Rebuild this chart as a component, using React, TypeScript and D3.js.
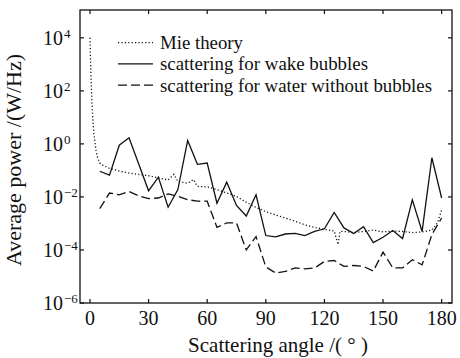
import React from "react";
import * as d3 from "d3";

// scattering angles (deg)
const angles = [5, 10, 15, 20, 25, 30, 35, 40, 45, 50, 55, 60, 65, 70, 75, 80, 85, 90,
  95, 100, 105, 110, 115, 120, 125, 130, 135, 140, 145, 150, 155, 160, 165, 170, 175, 180];

// scattering for wake bubbles (W/Hz)
const wakeBubbles = [9.3e-2, 6.6e-2, 0.89, 1.7, 0.17, 1.7e-2, 5.6e-2, 4.1e-3, 1.9e-2, 1.35,
  0.17, 0.19, 5.8e-3, 3.6e-2, 4.8e-3, 1.9e-3, 1.2e-2, 3.5e-4, 3.1e-4, 4.0e-4, 4.2e-4, 3.5e-4,
  5.0e-4, 6.3e-4, 2.6e-3, 6.8e-4, 4.2e-4, 7.6e-4, 1.9e-4, 3.0e-4, 5.4e-4, 2.7e-4, 7.8e-3,
  5.0e-4, 0.3, 9.1e-3];

// scattering for water without bubbles (W/Hz)
const noBubbles = [3.6e-3, 1.4e-2, 1.2e-2, 1.6e-2, 1.1e-2, 8.7e-3, 9.1e-3, 1.3e-2, 1.05e-2,
  7.9e-3, 6.9e-3, 6.9e-3, 7.1e-4, 1.05e-3, 1.05e-3, 1.0e-4, 3.2e-4, 2.3e-5, 1.35e-5, 1.55e-5,
  2.1e-5, 1.95e-5, 2.1e-5, 3.7e-5, 4.0e-5, 2.4e-5, 2.6e-5, 2.4e-5, 1.6e-5, 8.3e-5, 2.1e-5,
  2.1e-5, 4.3e-5, 2.75e-5, 3.8e-4, 1.6e-3];

// Mie theory
const mieAngles = [0, 0.5, 1, 1.5, 2, 3, 4, 5, 7, 10, 15, 20, 25, 30, 35, 40, 43, 45, 50, 53,
  55, 60, 65, 70, 75, 80, 85, 90, 95, 100, 105, 110, 115, 120, 125, 127, 128, 130, 135, 140,
  145, 150, 155, 160, 165, 170, 175, 178, 180];
const mieValues = [1e4, 400, 40, 7.9, 2.5, 0.63, 0.28, 0.19, 0.15, 0.12, 0.095, 0.079, 0.071,
  0.063, 0.052, 0.044, 0.071, 0.038, 0.033, 0.045, 0.025, 0.024, 0.019, 0.014, 0.0105, 0.0063,
  0.004, 0.0028, 0.0021, 0.0016, 0.0012, 8.9e-4, 7.1e-4, 6.0e-4, 5.2e-4, 1.6e-4, 5.0e-4,
  5.0e-4, 4.5e-4, 5.0e-4, 5.6e-4, 4.8e-4, 5.2e-4, 5.0e-4, 4.5e-4, 4.8e-4, 5.6e-4, 1.1e-3,
  3.2e-3];

const xTicks = [0, 30, 60, 90, 120, 150, 180];
const yExponents = [-6, -4, -2, 0, 2, 4];
const legendLabels = ["Mie theory", "scattering for wake bubbles", "scattering for water without bubbles"];

const W = 460;
const H = 358;
const m = { left: 80, right: 8, top: 10, bottom: 55 };
const font = "'Liberation Serif', 'Times New Roman', serif";
const ink = "#111";

export default function App() {
  const x = d3.scaleLinear().domain([-5.1, 185.3]).range([m.left, W - m.right]);
  const y = d3.scaleLog().domain([1e-6, Math.pow(10, 5.05)]).range([H - m.bottom, m.top]);

  const line = d3.line<[number, number]>()
    .x(d => x(d[0]))
    .y(d => y(d[1]));

  const mie = line(mieAngles.map((a, i) => [a, mieValues[i]]));
  const wake = line(angles.map((a, i) => [a, wakeBubbles[i]]));
  const water = line(angles.map((a, i) => [a, noBubbles[i]]));

  const [x0, x1] = x.range();
  const [y0, y1] = y.range();
  const tick = 4;
  const dashes = ["1.2 2.2", "none", "9 4"];
  const legendWidths = [83, 208, 272];

  return (
    <svg width={W} height={H} style={{ position: "absolute", left: 0, top: 0, background: "#fff" }}
      fontFamily={font} fill={ink}>
      <g fill="none" stroke={ink} strokeWidth={1.3}>
        <path d={mie ?? ""} strokeDasharray={dashes[0]} />
        <path d={wake ?? ""} />
        <path d={water ?? ""} strokeDasharray={dashes[2]} />
      </g>

      {/* frame and inward ticks */}
      <rect x={x0} y={y1} width={x1 - x0} height={y0 - y1} fill="none" stroke={ink} strokeWidth={1.3} />
      {xTicks.map(t => (
        <g key={t} stroke={ink} strokeWidth={1.2}>
          <line x1={x(t)} x2={x(t)} y1={y0} y2={y0 - tick} />
          <line x1={x(t)} x2={x(t)} y1={y1} y2={y1 + tick} />
        </g>
      ))}
      {yExponents.map(e => (
        <g key={e} stroke={ink} strokeWidth={1.2}>
          <line x1={x0} x2={x0 + tick} y1={y(Math.pow(10, e))} y2={y(Math.pow(10, e))} />
          <line x1={x1} x2={x1 - tick} y1={y(Math.pow(10, e))} y2={y(Math.pow(10, e))} />
        </g>
      ))}

      {xTicks.map(t => (
        <text key={t} x={x(t)} y={325} textAnchor="middle" fontSize={20}>{t}</text>
      ))}
      {yExponents.map(e => (
        <text key={e} x={63} y={y(Math.pow(10, e)) + 7} textAnchor="end" fontSize={20}>
          10
          <tspan x={64} dy={-7} textAnchor="start" fontSize={13}>{e < 0 ? "\u2212" + Math.abs(e) : e}</tspan>
        </text>
      ))}

      <text x={278} y={352} textAnchor="middle" fontSize={21}>Scattering angle /( ° )</text>
      <text transform="translate(21,160) rotate(-90)" textAnchor="middle" fontSize={22}>Average power /(W/Hz)</text>

      {legendLabels.map((label, i) => {
        const ly = 42.7 + i * 21.2;
        return (
          <g key={label}>
            <line x1={118} x2={153} y1={ly} y2={ly} stroke={ink} strokeWidth={1.3}
              strokeDasharray={dashes[i]} />
            <text x={160} y={ly + 6.5} fontSize={19} textLength={legendWidths[i]}
              lengthAdjust="spacingAndGlyphs">{label}</text>
          </g>
        );
      })}
    </svg>
  );
}
